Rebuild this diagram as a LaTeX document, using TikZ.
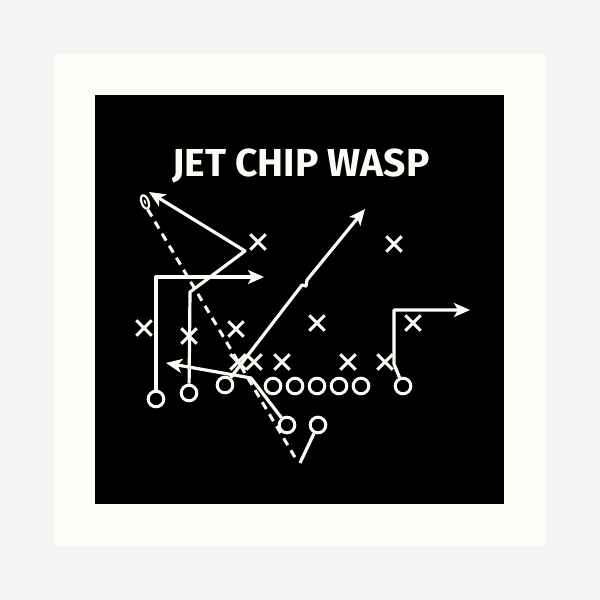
\documentclass[tikz,border=0pt]{standalone}
\usepackage{fontspec}
\usepackage{tikz}
\usetikzlibrary{arrows.meta,shapes.misc,shapes.geometric,positioning}
\newfontfamily\playfont{Fira Sans}
\definecolor{chalk}{HTML}{FCFCF6}
\definecolor{wall}{HTML}{F5F5F5}
\definecolor{mat}{HTML}{FDFDF8}

\begin{document}
\begin{tikzpicture}[x=0.5pt,y=-0.5pt,node distance=11pt,on grid,
  off/.style={circle,draw=chalk,line width=1.5pt,minimum size=7.8pt,inner sep=0pt},
  def/.style={cross out,draw=chalk,line width=1.5pt,minimum size=6.2pt,inner sep=0pt},
  ball/.style={ellipse,draw=chalk,line width=1.1pt,minimum width=3.5pt,minimum height=7pt,inner sep=0pt,rotate=20},
  route/.style={draw=chalk,line width=1.6pt,line join=round},
  go/.style={route,-{Stealth[length=8pt,width=7pt,inset=2pt]}},
  read/.style={draw=chalk,line width=1.5pt,dash pattern=on 4pt off 3pt}]
  \useasboundingbox (0,0) rectangle (600,600);
  \fill[wall] (0,0) rectangle (600,600);
  \fill[mat] (55,55) rectangle (545,545);
  \fill[black] (95,95) rectangle (504,504);

  \node[text=chalk,font=\playfont\bfseries\fontsize{19.5}{24}\selectfont] (title) at (301,166) {JET CHIP WASP};

  % offense
  \node[off] (c) at (317,386) {};
  \node[off] (lg) [left=of c] {};
  \node[off] (lt) [left=of lg] {};
  \node[off] (rg) [right=of c] {};
  \node[off] (rt) [right=of rg] {};
  \node[off] (te) at (403,386) {};
  \node[off] (wr1) at (156,399) {};
  \node[off] (wr2) at (189,393) {};
  \node[off] (jet) at (225,385) {};
  \node[off] (qb) at (287,425) {};
  \node[off] (rb) at (318,425) {};

  % defense
  \node[def] (d1) at (258,242) {};
  \node[def] (d2) at (394,244) {};
  \node[def] (d3) at (144,328) {};
  \node[def] (d4) at (189,336) {};
  \node[def] (d5) at (236,329) {};
  \node[def] (d6) at (317,323) {};
  \node[def] (d7) at (413,323) {};
  \node[def] (d8) at (238,362) {};
  \node[def] (d9) at (254,362) {};
  \node[def] (d10) at (282,362) {};
  \node[def] (d11) at (348,362) {};
  \node[def] (d12) at (385,362) {};

  % ball
  \node[ball] (fb) at (145,202) {};
  \draw[chalk,line width=0.8pt,shorten <=3pt,shorten >=3pt] (fb.north) -- (fb.south);

  \coordinate (a1) at (264,277);
  \coordinate (b1) at (190,292);
  \coordinate (b2) at (245,251);
  \coordinate (b3) at (149,192);
  \coordinate (c1) at (302,285);
  \coordinate (c2) at (307,280);
  \coordinate (c3) at (365,209);
  \coordinate (q1) at (251,378);
  \coordinate (q2) at (166,363);
  \coordinate (r1) at (300,463);
  \coordinate (t1) at (394,364);
  \coordinate (t2) at (470,310);
  \coordinate (s1) at (296,459);

  % routes
  \draw[go] (wr1) |- (a1);
  \draw[go] (wr2) -- (b1) -- (b2) -- (b3);
  \draw[go] (jet) -- (c1) -- ++(4,1) -- (c2) -- (c3);
  \draw[go] (qb) -- (q1) -- (q2);
  \draw[route] (rb) -- (r1);
  \draw[go] (te) -- (t1) |- (t2);
  \draw[read] (fb.south) -- (s1);
\end{tikzpicture}
\end{document}
